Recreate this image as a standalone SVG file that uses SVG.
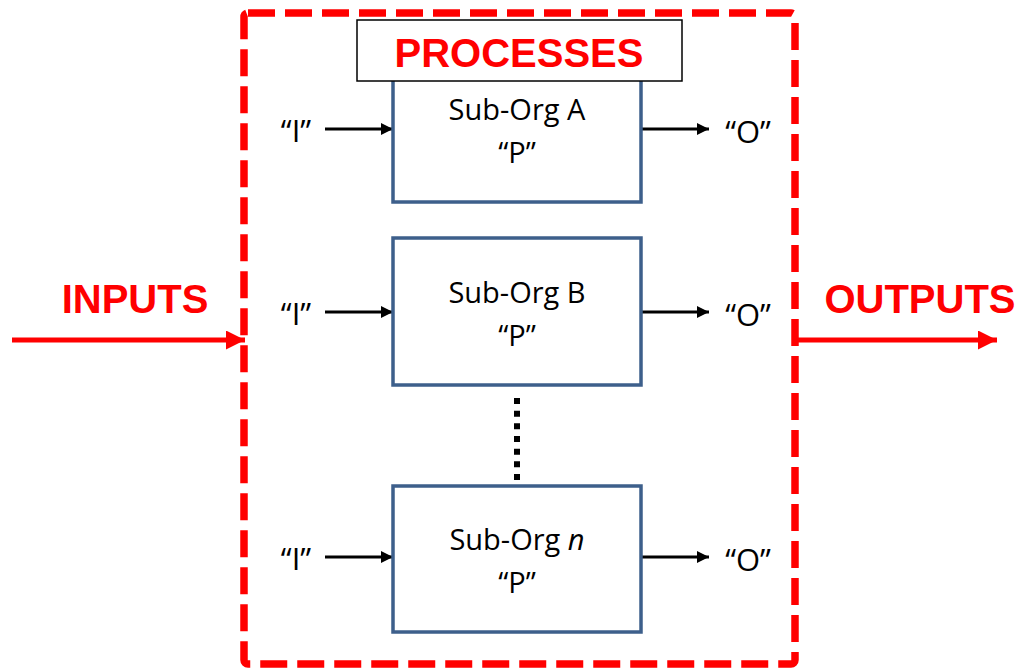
<svg xmlns="http://www.w3.org/2000/svg" width="1020" height="670" viewBox="0 0 1020 670">
<defs>
<marker id="ah" markerUnits="userSpaceOnUse" markerWidth="14" markerHeight="14" refX="12" refY="6" orient="auto">
<path d="M0,0 L12,6 L0,12 Z" fill="#000"/>
</marker>
<marker id="ahr" markerUnits="userSpaceOnUse" markerWidth="22" markerHeight="22" refX="19" refY="9.5" orient="auto">
<path d="M0,0 L19,9.5 L0,19 Z" fill="#FF0000"/>
</marker>
<style>
.sub{fill:#fff;stroke:#3D5F8B;stroke-width:3.5}
.lbl{font-family:"Open Sans","Liberation Sans",sans-serif;font-size:29px;fill:#000;text-anchor:middle}
.io{font-family:"Open Sans","Liberation Sans",sans-serif;font-size:31px;fill:#000;text-anchor:middle}
.big{font-family:"Liberation Sans",Arial,sans-serif;font-size:40px;font-weight:bold;fill:#FF0000;text-anchor:middle}
.arr{stroke:#000;stroke-width:3.2;fill:none;marker-end:url(#ah)}
.rarr{stroke:#FF0000;stroke-width:5;fill:none;marker-end:url(#ahr)}
</style>
</defs>
<rect width="1020" height="670" fill="#fff"/>
<g id="boundary">
<rect x="244" y="13" width="551" height="651" rx="4" fill="none" stroke="#FF0000" stroke-width="7.5" stroke-dasharray="27 10"/>
</g>
<g id="connectors">
<line class="rarr" x1="12" y1="340" x2="245" y2="340"/>
<line class="rarr" x1="795" y1="340" x2="997" y2="340"/>
<line class="arr" x1="325" y1="129" x2="393" y2="129"/>
<line class="arr" x1="641" y1="129" x2="709" y2="129"/>
<line class="arr" x1="325" y1="312" x2="393" y2="312"/>
<line class="arr" x1="641" y1="312" x2="709" y2="312"/>
<line class="arr" x1="325" y1="557" x2="393" y2="557"/>
<line class="arr" x1="641" y1="557" x2="709" y2="557"/>
<line x1="517" y1="398" x2="517" y2="481" stroke="#000" stroke-width="6" stroke-dasharray="6 6.67"/>
</g>
<g id="subOrgA">
<rect class="sub" x="393" y="56" width="248" height="146"/>
<text class="lbl" x="517" y="120">Sub-Org A</text>
<text class="lbl" x="517" y="163">“P”</text>
</g>
<g id="processes">
<rect x="357" y="20" width="325" height="61" fill="#fff" stroke="#000" stroke-width="1.5"/>
<text class="big" x="519" y="67">PROCESSES</text>
</g>
<g id="subOrgB">
<rect class="sub" x="393" y="238" width="248" height="147"/>
<text class="lbl" x="517" y="303">Sub-Org B</text>
<text class="lbl" x="517" y="346">“P”</text>
</g>
<g id="subOrgN">
<rect class="sub" x="393" y="486" width="248" height="146"/>
<text class="lbl" x="517" y="550">Sub-Org <tspan font-style="italic">n</tspan></text>
<text class="lbl" x="517" y="593">“P”</text>
</g>
<g id="inputs">
<text class="big" x="135" y="313">INPUTS</text>
</g>
<g id="outputs">
<text class="big" x="920" y="313">OUTPUTS</text>
</g>
<g id="io-labels">
<text class="io" x="296" y="142">“I”</text>
<text class="io" x="748" y="143">“O”</text>
<text class="io" x="296" y="325">“I”</text>
<text class="io" x="748" y="326">“O”</text>
<text class="io" x="296" y="570">“I”</text>
<text class="io" x="748" y="571">“O”</text>
</g>
</svg>
